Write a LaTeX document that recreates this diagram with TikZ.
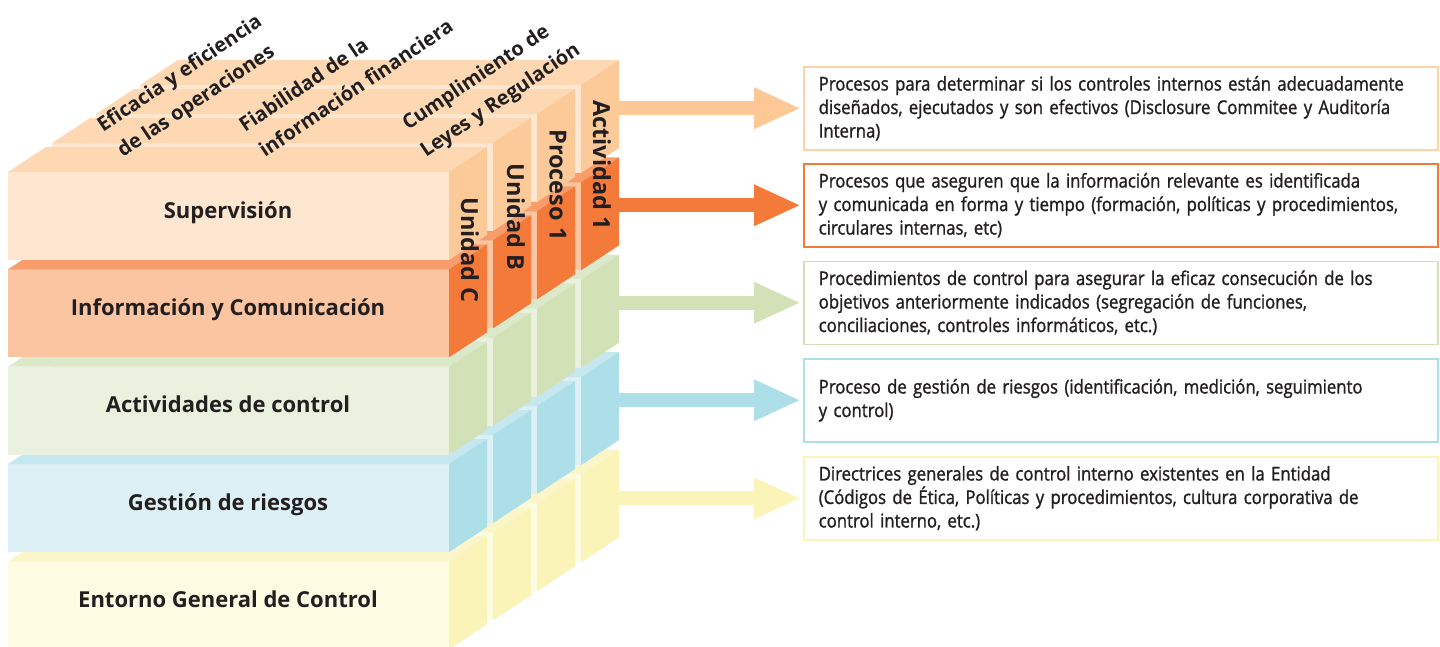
\documentclass[tikz,border=0pt]{standalone}
\usepackage{fontspec}
\setmainfont{Open Sans}
\newfontfamily\boxfont{Open Sans}[FakeStretch=0.88,FakeBold=1.2]
\usetikzlibrary{arrows.meta}
\definecolor{txt}{HTML}{231F20}
\definecolor{fA}{HTML}{FDE7D0}\definecolor{tA}{HTML}{FDD8B2}\definecolor{sA}{HTML}{FCCA98}
\definecolor{fB}{HTML}{FAC5A0}\definecolor{tB}{HTML}{F89C6C}\definecolor{sB}{HTML}{F47A3A}
\definecolor{fC}{HTML}{EBF1DF}\definecolor{tC}{HTML}{DCE8CA}\definecolor{sC}{HTML}{D3E1B7}
\definecolor{fD}{HTML}{DCF0F5}\definecolor{tD}{HTML}{C5E7EF}\definecolor{sD}{HTML}{ADDFE8}
\definecolor{fE}{HTML}{FDFBE2}\definecolor{tE}{HTML}{FBF6CA}\definecolor{sE}{HTML}{FAF4B9}
\definecolor{arA}{HTML}{FDC896}\definecolor{bdA}{HTML}{FDD3A9}
\tikzset{
  infobox/.style={draw=#1, line width=1.5pt, fill=white, anchor=north west,
    minimum width=634pt, minimum height=83pt, text width=604pt, inner xsep=15pt,
    inner ysep=0pt, align=left, font=\boxfont\fontsize{19}{23.5}\selectfont, text=txt},
  bigarrow/.style={draw=#1, line width=14pt, shorten >=2pt,
    -{Triangle[length=47pt,width=38pt]}},
  rowlab/.style={anchor=base, font=\bfseries\fontsize{22}{26}\selectfont, text=txt},
  sidelab/.style={rotate=-90, font=\bfseries\fontsize{23.5}{26}\selectfont, text=txt},
  toplab/.style={rotate=34, anchor=base west, inner sep=0pt, font=\bfseries\fontsize{20}{24}\selectfont, text=txt},
}
\begin{document}
\begin{tikzpicture}[x=1pt,y=-1pt]
\useasboundingbox (0,0) rectangle (1440,646);
\clip (0,0) rectangle (1440,646);
% info boxes
\node[infobox=bdA] (b1) at (803,66) {Procesos para determinar si los controles internos están adecuadamente\\diseñados, ejecutados y son efectivos (Disclosure Commitee y Auditoría\\Interna)};
\node[infobox=sB] (b2) at (803,163) {Procesos que aseguren que la información relevante es identificada\\y comunicada en forma y tiempo (formación, políticas y procedimientos,\\circulares internas, etc)};
\node[infobox=sC] (b3) at (803,260.5) {Procedimientos de control para asegurar la eficaz consecución de los\\objetivos anteriormente indicados (segregación de funciones,\\conciliaciones, controles informáticos, etc.)};
\node[infobox=sD] (b4) at (803,358) {Proceso de gestión de riesgos (identificación, medición, seguimiento\\y control)};
\node[infobox=sE] (b5) at (803,456) {Directrices generales de control interno existentes en la Entidad\\(Códigos de Ética, Políticas y procedimientos, cultura corporativa de\\control interno, etc.)};
% arrows (start behind the cube)
\coordinate (a1) at (600,0 |- b1.west);
\coordinate (a2) at (600,0 |- b2.west);
\coordinate (a3) at (600,0 |- b3.west);
\coordinate (a4) at (600,0 |- b4.west);
\coordinate (a5) at (600,0 |- b5.west);
\draw[bigarrow=arA] (a1) -- (b1.west);
\draw[bigarrow=sB] (a2) -- (b2.west);
\draw[bigarrow=sC] (a3) -- (b3.west);
\draw[bigarrow=sD] (a4) -- (b4.west);
\draw[bigarrow=sE] (a5) -- (b5.west);
% cube
\foreach \k in {3,2,1,0}{
  \foreach \r/\c in {4/E,3/D,2/C,1/B,0/A}{
    \pgfmathsetmacro\T{172+97.35*\r-29*\k}
    \pgfmathsetmacro\L{8+44*\k}
    \pgfmathsetmacro\R{449+44*\k}
    \fill[fill=f\c] (\L,\T) rectangle (\R,\T+88);
    \fill[fill=t\c] (\L,\T) -- (\R,\T) -- (\R+38,\T-25) -- (\L+38,\T-25) -- cycle;
    \fill[fill=s\c] (\R,\T) -- (\R+38,\T-25) -- (\R+38,\T+63) -- (\R,\T+88) -- cycle;
  }
}
% row labels
\node[rowlab] (r1) at (228,218) {Supervisión};
\node[rowlab] (r2) at (228,315.35) {Información y Comunicación};
\node[rowlab] (r3) at (228,412.7) {Actividades de control};
\node[rowlab] (r4) at (228,510.05) {Gestión de riesgos};
\node[rowlab] (r5) at (228,607.4) {Entorno General de Control};
% side labels
\node[sidelab] (s1) at (470,250) {Unidad C};
\node[sidelab] (s2) at (516,217) {Unidad B};
\node[sidelab] (s3) at (558,185) {Proceso 1};
\node[sidelab] (s4) at (602,165) {Actividad 1};
% top labels
\node[toplab] (c1a) at (103,133) {Eficacia y eficiencia};
\node[toplab] (c1b) at (123,158) {de las operaciones};
\node[toplab] (c2a) at (245,133) {Fiabilidad de la};
\node[toplab] (c2b) at (265,158) {información financiera};
\node[toplab] (c3a) at (408,131) {Cumplimiento de};
\node[toplab] (c3b) at (426,158) {Leyes y Regulación};
\end{tikzpicture}
\end{document}
